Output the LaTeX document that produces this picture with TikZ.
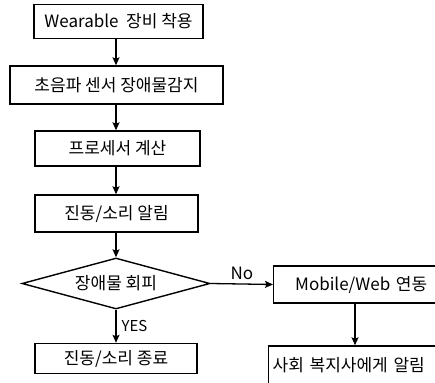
\documentclass[tikz,border=0pt]{standalone}
\usepackage{fontspec}
\setmainfont{Noto Sans CJK KR}
\usetikzlibrary{shapes.geometric,arrows.meta}
\begin{document}
\begin{tikzpicture}[x=1pt,y=-1pt,
    font=\fontsize{17}{20}\selectfont,
    box/.style={draw,line width=1.4pt,inner sep=0pt},
    cond/.style={draw,diamond,line width=1.4pt,inner sep=0pt,shape aspect=3.6},
    arr/.style={line width=1.3pt,-{Stealth[length=8pt,width=7pt,inset=1.5pt]}}]
      \useasboundingbox (0,0) rectangle (435,382);
      \clip (0,0) rectangle (435,382);
      \node[box,minimum width=169,minimum height=34] (wear) at (118.5,21.5) {Wearable\ \ 장비 착용};
      \node[box,minimum width=213,minimum height=38] (sense) at (116.5,85) {초음파 센서 장애물감지};
      \node[box,minimum width=165,minimum height=35] (proc) at (117.5,148.5) {프로세서 계산};
      \node[box,minimum width=163,minimum height=37] (alarm) at (116.5,213.5) {진동/소리 알림};
      \node[cond,minimum width=188,minimum height=51] (avoid) at (116,283.5) {장애물 회피};
      \node[box,minimum width=162,minimum height=30] (stop) at (116,358.5) {진동/소리 종료};
      \node[box,anchor=west,inner xsep=5pt,text width=165,align=center,minimum height=37] (mobile) at (273,284.5) {Mobile/Web 연동};
      \node[box,anchor=west,inner xsep=4pt,text width=180,minimum height=39] (notify) at (268,365.5) {사회 복지사에게 알림};
      \begin{scope}[arr]
        \draw (wear.south -| 116,0) -- (sense.north -| 116,0);
        \draw (sense.south -| 116,0) -- (proc.north -| 116,0);
        \draw (proc.south -| 116,0) -- (alarm.north -| 116,0);
        \draw (alarm.south -| 116,0) -- (avoid.north);
        \draw (avoid.south) -- node[right,inner sep=5pt,font=\fontsize{15}{17}\selectfont] {YES} (stop.north);
        \draw (avoid.east) -- node[above,inner sep=4pt] {No} (mobile.west);
        \draw (mobile.south -| 355,0) -- (notify.north -| 355,0);
      \end{scope}
    \end{tikzpicture}
\end{document}
